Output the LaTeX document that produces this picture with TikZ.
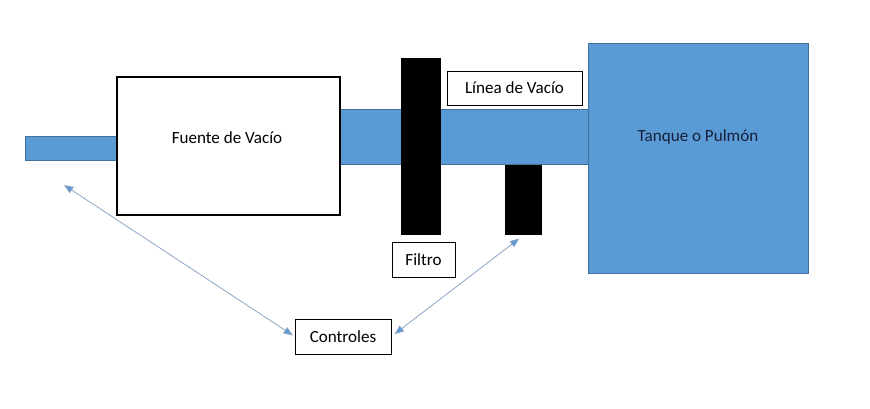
\documentclass[tikz,border=0pt]{standalone}
\usepackage{fontspec}
\setmainfont{Carlito}
\usetikzlibrary{arrows.meta, positioning}

\definecolor{pipeblue}{RGB}{91,155,213}
\definecolor{pipeedge}{RGB}{65,113,156}
\definecolor{ctrlline}{RGB}{140,165,195}
\definecolor{tanktext}{RGB}{22,32,60}

\begin{document}
\begin{tikzpicture}[
    x=0.75pt, y=-0.75pt,
    pipe/.style={rectangle, draw=pipeedge, line width=0.75pt, fill=pipeblue, inner sep=0pt},
    block/.style={rectangle, fill=black, inner sep=0pt},
    box/.style={rectangle, draw, line width=0.6pt, fill=white, inner sep=0pt, font=\fontsize{12.8}{15}\selectfont},
    label/.style={font=\fontsize{12.8}{15}\selectfont, inner sep=0pt},
    arrow/.style={{Triangle[length=7pt,width=5.5pt,fill=pipeblue]}-{Triangle[length=7pt,width=5.5pt,fill=pipeblue]}, draw=ctrlline, line width=0.6pt}
]
\useasboundingbox (0,0) rectangle (870,409);

% tuberias
\node[pipe, minimum width=69.75pt, minimum height=18pt] (inlet) at (71.5,149) {};
\node[pipe, minimum width=186pt, minimum height=41.25pt] (line) at (464,137.5) {};

% fuente de vacio
\node[rectangle, draw, line width=1.5pt, fill=white, minimum width=167.25pt, minimum height=103.5pt] (source) at (228.5,146) {};
\node[label] (sourcetext) at (227,138) {Fuente de Vacío};

% filtro y valvula
\node[block, minimum width=30pt, minimum height=132.75pt] (filter) at (421,146.5) {};
\node[block, minimum width=27.75pt, minimum height=52.5pt] (valve) at (523.5,200) {};

% tanque
\node[pipe, minimum width=165pt, minimum height=172.5pt] (tank) at (698,159) {};
\node[label, text=tanktext] (tanklabel) at (698,137) {Tanque o Pulmón};

% etiquetas
\node[box, minimum width=101.25pt, minimum height=25.5pt] (linelabel) at (514.5,88) {Línea de Vacío};
\node[box, minimum width=47.25pt, minimum height=26.25pt] (filterlabel) at (423.5,259.5) {Filtro};
\node[box, minimum width=72pt, minimum height=26.25pt] (controls) at (343,336.5) {Controles};

\coordinate (inletctrl) at (64,185);

\draw[arrow, shorten >=1.5pt] (inletctrl) -- (controls.west);
\draw[arrow, shorten <=3pt, shorten >=4pt] (controls.east) -- (valve.south);

\end{tikzpicture}
\end{document}
